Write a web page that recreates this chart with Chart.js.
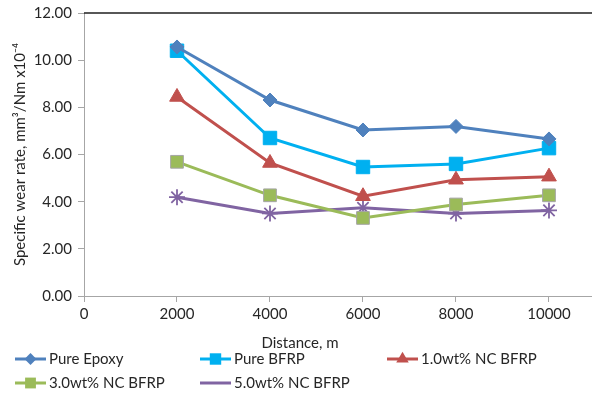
<!DOCTYPE html>
<html>
<head>
<meta charset="utf-8">
<script src="https://cdn.jsdelivr.net/npm/chart.js@4"></script>
<style>
  html, body { margin: 0; padding: 0; background: #fff; }
  #wrap { width: 592px; height: 394px; }
</style>
</head>
<body>
<div id="wrap"><canvas id="wear"></canvas></div>
<script>
// distances (m) and specific wear rate, mm3/Nm x10^-4
const distances = [2000, 4000, 6000, 8000, 10000]
const pureEpoxy = [10.56, 8.31, 7.04, 7.19, 6.66]
const pureBFRP  = [10.40, 6.70, 5.47, 5.60, 6.27]
const nc1 = [8.44, 5.64, 4.23, 4.93, 5.06]
const nc3 = [5.69, 4.27, 3.31, 3.88, 4.27]
const nc5 = [4.19, 3.50, 3.74, 3.50, 3.63]
const seriesNames = ['Pure Epoxy', 'Pure BFRP', '1.0wt% NC BFRP', '3.0wt% NC BFRP', '5.0wt% NC BFRP']
const yTicks = [0, 2, 4, 6, 8, 10, 12]
const xTicks = [0, 2000, 4000, 6000, 8000, 10000]

const FONT = 'Lato'
const TXT = '#262626'
const AXIS = '#a6a6a6'

function pts(vals){
    return vals.map((v, i) => ({x: distances[i], y: v}))
}

function series(name, vals, color, style, radius, border){
    return {
        label: name,
        data: pts(vals),
        borderColor: color,
        backgroundColor: color,
        borderWidth: 3,
        pointStyle: style,
        pointRadius: radius,
        pointHoverRadius: radius,
        pointBackgroundColor: color,
        pointBorderColor: border || color,
        pointBorderWidth: style == 'star' ? 1.8 : 1,
        tension: 0
    }
}

// legend + x title + top border drawn by hand so they sit where the original has them
const extras = {
    id: 'extras',
    afterDraw(chart){
        let ctx = chart.ctx
        let area = chart.chartArea
        ctx.save()
        ctx.strokeStyle = '#1f1f1f'
        ctx.lineWidth = 1.5
        ctx.beginPath()
        ctx.moveTo(area.left, area.top)
        ctx.lineTo(592, area.top)
        ctx.stroke()

        ctx.fillStyle = TXT
        ctx.font = '15px ' + FONT
        ctx.textAlign = 'center'
        ctx.textBaseline = 'middle'
        ctx.fillText('Distance, m', 300, 343)

        let spots = [[15, 359], [200, 359], [387, 359], [15, 383], [200, 383]]
        chart.data.datasets.forEach((ds, i) => {
            let [x, y] = spots[i]
            ctx.strokeStyle = ds.borderColor
            ctx.lineWidth = 3
            ctx.beginPath()
            ctx.moveTo(x, y)
            ctx.lineTo(x + 31, y)
            ctx.stroke()
            ctx.fillStyle = ds.pointBackgroundColor
            ctx.strokeStyle = ds.pointBorderColor
            ctx.lineWidth = ds.pointBorderWidth
            Chart.helpers.drawPoint(ctx, {pointStyle: ds.pointStyle, radius: ds.pointRadius * 0.85, rotation: 0}, x + 15.5, y)
            ctx.fillStyle = TXT
            ctx.font = '15px ' + FONT
            ctx.textAlign = 'left'
            ctx.fillText(ds.label, x + 34, y)
        })
        ctx.restore()
    }
}

new Chart(document.getElementById('wear'), {
    type: 'line',
    data: {
        datasets: [
            series(seriesNames[0], pureEpoxy, '#4f81bd', 'rectRot', 7),
            series(seriesNames[1], pureBFRP, '#00b0f0', 'rect', 9.5),
            series(seriesNames[2], nc1, '#c0504d', 'triangle', 8.5),
            series(seriesNames[3], nc3, '#9bbb59', 'rect', 9, '#a5a5a5'),
            series(seriesNames[4], nc5, '#8064a2', 'star', 8)
        ]
    },
    options: {
        responsive: true,
        maintainAspectRatio: false,
        animation: false,
        layout: {autoPadding: false, padding: {top: 13, right: 0, bottom: 0, left: 0}},
        plugins: {legend: {display: false}, tooltip: {enabled: false}},
        scales: {
            x: {
                type: 'linear',
                min: 0,
                max: 10925,
                afterBuildTicks: (s) => { s.ticks = xTicks.map(v => ({value: v})) },
                afterFit: (s) => { s.height = 98; s.paddingRight = 0; s.paddingLeft = 0 },
                grid: {drawOnChartArea: false, color: AXIS, tickLength: 6},
                border: {color: AXIS, width: 1},
                ticks: {color: TXT, font: {family: FONT, size: 15}, padding: 3, maxRotation: 0, autoSkip: false, callback: (v) => String(v)}
            },
            y: {
                min: 0,
                max: 12,
                afterBuildTicks: (s) => { s.ticks = yTicks.map(v => ({value: v})) },
                afterFit: (s) => { s.width = 84; s.paddingTop = 0; s.paddingBottom = 0 },
                grid: {drawOnChartArea: false, color: AXIS, tickLength: 6},
                border: {color: AXIS, width: 1},
                ticks: {color: TXT, font: {family: FONT, size: 15}, padding: 6, callback: (v) => v.toFixed(2)},
                title: {display: true, text: 'Specific wear rate, mm³/Nm x10⁻⁴', color: TXT, font: {family: FONT, size: 15}, padding: {top: 11, bottom: 2}}
            }
        }
    },
    plugins: [extras]
})
</script>
</body>
</html>
